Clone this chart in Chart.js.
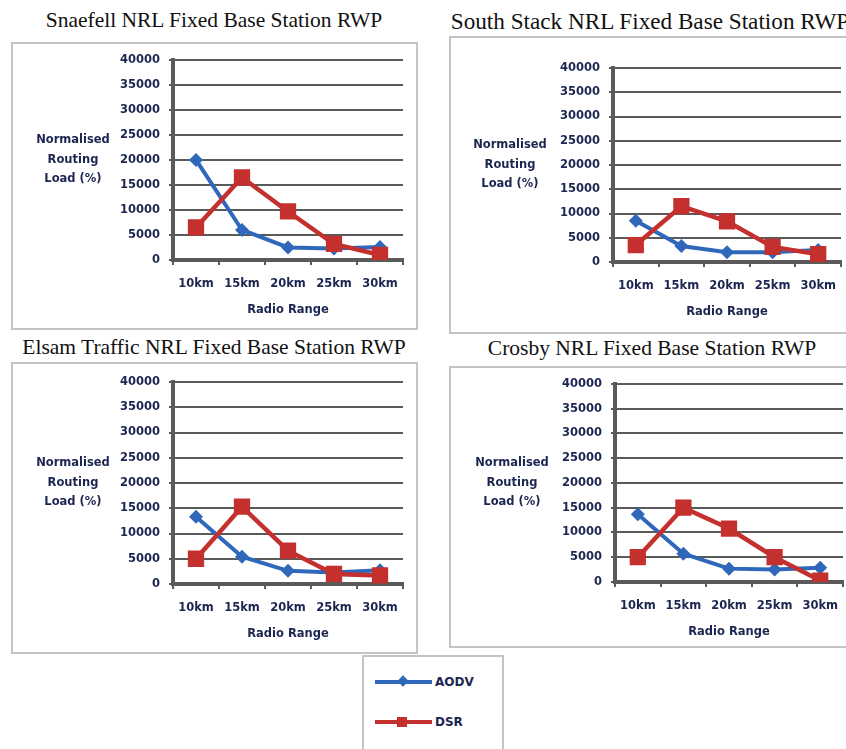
<!DOCTYPE html>
<html>
<head>
<meta charset="utf-8">
<script src="https://cdn.jsdelivr.net/npm/chart.js@4.4.1/dist/chart.umd.min.js"></script>
<style>
  body { margin: 0; background: #fff; width: 846px; height: 749px; overflow: hidden; position: relative; }
  .panel-title { position: absolute; width: 600px; text-align: center; font-family: 'Liberation Serif', serif; font-size: 21.5px; line-height: 21px; color: #111; white-space: nowrap; }
  .panel-box { position: absolute; border: 2px solid #c4c4c4; box-sizing: border-box; background: #fff; }
  .panel-box canvas { position: absolute; left: 0; top: 0; }
  #legend { position: absolute; left: 362px; top: 655px; width: 142px; height: 110px; border: 2px solid #c4c4c4; box-sizing: border-box; background: #fff; }
  .legend-line { position: absolute; left: 11px; width: 57px; height: 4px; }
  .legend-text { position: absolute; left: 71px; font: bold 12px 'DejaVu Sans', sans-serif; color: #1c2550; line-height: 14px; }
  .marker { position: absolute; }
</style>
</head>
<body>
<div id="charts"></div>
<div id="legend">
  <div class="legend-line" style="top:23px; background:#2f68ba;"><div class="marker" style="left:24px; top:-3px; width:8px; height:8px; background:#2f68ba; transform:rotate(45deg);"></div></div>
  <div class="legend-text" style="top:18px;">AODV</div>
  <div class="legend-line" style="top:63px; background:#c3302e;"><div class="marker" style="left:22px; top:-3px; width:10px; height:10px; background:#c3302e;"></div></div>
  <div class="legend-text" style="top:58px;">DSR</div>
</div>
<script>
// --- Data ---
const rangeLabels = ['10km', '15km', '20km', '25km', '30km'];
const loadTicks = [0, 5000, 10000, 15000, 20000, 25000, 30000, 35000, 40000];
const yTitleLines = ['Normalised', 'Routing', 'Load (%)'];

const snaefellAodv = [20000, 6000, 2500, 2300, 2600];
const snaefellDsr = [6500, 16500, 9700, 3200, 1000];
const southStackAodv = [8500, 3300, 2000, 2000, 2500];
const southStackDsr = [3500, 11500, 8400, 3100, 1600];
const elsamAodv = [13300, 5400, 2600, 2300, 2700];
const elsamDsr = [5000, 15300, 6600, 2000, 1700];
const crosbyAodv = [13700, 5700, 2700, 2500, 2900];
const crosbyDsr = [5000, 15000, 10800, 5000, 300];

// --- Layout (page pixels) ---
const panels = [
  { title: 'Snaefell NRL Fixed Base Station RWP', titleX: 214, titleTop: 10, titleSize: 21.5, box: [11, 42, 418, 330], area: [173, 59, 403, 260], titleOffset: 100, aodv: snaefellAodv, dsr: snaefellDsr },
  { title: 'South Stack NRL Fixed Base Station RWP', titleX: 650, titleTop: 11, titleSize: 23.2, box: [449, 36, 870, 334], area: [613, 68, 841, 262], titleOffset: 103, aodv: southStackAodv, dsr: southStackDsr },
  { title: 'Elsam Traffic NRL Fixed Base Station RWP', titleX: 214, titleTop: 337, titleSize: 21.5, box: [11, 362, 418, 654], area: [173, 382, 403, 584], titleOffset: 100, aodv: elsamAodv, dsr: elsamDsr },
  { title: 'Crosby NRL Fixed Base Station RWP', titleX: 652, titleTop: 338, titleSize: 21.5, box: [449, 366, 870, 648], area: [615, 382, 843, 582], titleOffset: 103, aodv: crosbyAodv, dsr: crosbyDsr }
];

const BLUE = '#2f68ba';
const RED = '#c3302e';
const AXIS_GREY = '#5a5a5a';
const TEXT_NAVY = '#1c2550';
const Y_WIDTH = 150;
const X_HEIGHT = 60;

const yTitlePlugin = {
  id: 'yTitle',
  afterDraw(chart, args, opts) {
    const { ctx, chartArea } = chart;
    ctx.save();
    ctx.font = 'bold 11.5px "DejaVu Sans"';
    ctx.fillStyle = TEXT_NAVY;
    ctx.textAlign = 'center';
    ctx.textBaseline = 'middle';
    const cx = chartArea.left - opts.offset;
    const cy = (chartArea.top + chartArea.bottom) / 2;
    yTitleLines.forEach((line, i) => ctx.fillText(line, cx, cy + (i - 1) * 19.5));
    ctx.restore();
  }
};

const renderPanel = (panel) => {
  const container = document.getElementById('charts');

  const title = document.createElement('div');
  title.className = 'panel-title';
  title.style.left = (panel.titleX - 300) + 'px';
  title.style.top = panel.titleTop + 'px';
  title.style.fontSize = panel.titleSize + 'px';
  title.textContent = panel.title;
  container.appendChild(title);

  const [bx0, by0, bx1, by1] = panel.box;
  const [ax0, ay0, ax1, ay1] = panel.area;
  const box = document.createElement('div');
  box.className = 'panel-box';
  box.style.left = bx0 + 'px';
  box.style.top = by0 + 'px';
  box.style.width = (bx1 - bx0) + 'px';
  box.style.height = (by1 - by0) + 'px';
  const canvas = document.createElement('canvas');
  const cw = bx1 - bx0 - 4;
  const ch = by1 - by0 - 4;
  canvas.width = cw;
  canvas.height = ch;
  box.appendChild(canvas);
  container.appendChild(box);

  const cLeft = bx0 + 2;
  const cTop = by0 + 2;

  new Chart(canvas.getContext('2d'), {
    type: 'line',
    data: {
      labels: rangeLabels,
      datasets: [
        {
          label: 'AODV',
          data: panel.aodv,
          borderColor: BLUE,
          backgroundColor: BLUE,
          borderWidth: 4,
          pointStyle: 'rectRot',
          pointRadius: 7,
          pointBorderWidth: 0,
          tension: 0,
          order: 1
        },
        {
          label: 'DSR',
          data: panel.dsr,
          borderColor: RED,
          backgroundColor: RED,
          borderWidth: 4.5,
          pointStyle: 'rect',
          pointRadius: 11.5,
          pointBorderWidth: 0,
          tension: 0,
          order: 0
        }
      ]
    },
    options: {
      responsive: false,
      animation: false,
      devicePixelRatio: 1,
      layout: {
        padding: {
          left: ax0 - cLeft - Y_WIDTH,
          top: ay0 - cTop,
          right: cLeft + cw - ax1,
          bottom: cTop + ch - ay1 - X_HEIGHT
        }
      },
      scales: {
        x: {
          offset: true,
          afterFit: (scale) => { scale.height = X_HEIGHT; },
          grid: { display: true, drawOnChartArea: false, drawTicks: true, offset: true, tickLength: 5, color: AXIS_GREY, lineWidth: 2 },
          border: { display: true, color: AXIS_GREY, width: 4 },
          ticks: { color: TEXT_NAVY, padding: 12, maxRotation: 0, font: { family: 'DejaVu Sans', size: 11.5, weight: 'bold' } },
          title: { display: true, text: 'Radio Range', color: TEXT_NAVY, padding: { top: 0, bottom: 3 }, font: { family: 'DejaVu Sans', size: 11.5, weight: 'bold' } }
        },
        y: {
          min: 0,
          max: 40000,
          afterFit: (scale) => { scale.width = Y_WIDTH; },
          afterBuildTicks: (scale) => { scale.ticks = loadTicks.map(v => ({ value: v })); },
          grid: { color: AXIS_GREY, lineWidth: 2, tickLength: 4 },
          border: { display: true, color: AXIS_GREY, width: 4 },
          ticks: {
            color: TEXT_NAVY,
            padding: 9,
            font: { family: 'DejaVu Sans', size: 11.5, weight: 'bold' },
            callback: (value) => String(value)
          }
        }
      },
      plugins: {
        legend: { display: false },
        tooltip: { enabled: false },
        yTitle: { offset: panel.titleOffset }
      }
    },
    plugins: [yTitlePlugin]
  });
};

document.addEventListener('DOMContentLoaded', () => {
  panels.forEach(renderPanel);
});
</script>
</body>
</html>
